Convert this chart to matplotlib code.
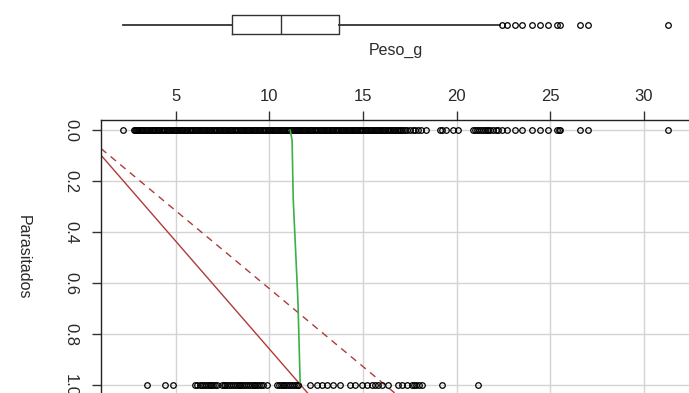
import numpy as np
import matplotlib
matplotlib.use("Agg")
import matplotlib.pyplot as plt

# datos (Peso_g vs Parasitados)
peso_no_parasitado = [
    2.17, 2.74, 2.8, 2.85, 2.92, 2.98, 3.05, 3.12, 3.2, 3.26, 3.33, 3.4, 3.47,
    3.55, 3.62, 3.7, 3.76, 3.83, 3.9, 3.98, 4.05, 4.12, 4.2, 4.27, 4.35, 4.42,
    4.5, 4.58, 4.65, 4.72, 4.8, 4.88, 4.95, 5.02, 5.1, 5.18, 5.25, 5.33, 5.4,
    5.48, 5.55, 5.62, 5.7, 5.78, 5.85, 5.92, 6.0, 6.08, 6.15, 6.22, 6.3, 6.38,
    6.45, 6.52, 6.6, 6.68, 6.75, 6.82, 6.9, 6.98, 7.05, 7.12, 7.2, 7.28, 7.35,
    7.42, 7.5, 7.58, 7.65, 7.72, 7.8, 7.88, 7.95, 8.02, 8.1, 8.18, 8.25, 8.32,
    8.4, 8.48, 8.55, 8.62, 8.7, 8.78, 8.85, 8.92, 9.0, 9.08, 9.15, 9.22, 9.3,
    9.38, 9.45, 9.52, 9.6, 9.68, 9.75, 9.82, 9.9, 9.98, 10.05, 10.12, 10.2,
    10.28, 10.35, 10.42, 10.5, 10.58, 10.65, 10.72, 10.8, 10.88, 10.95, 11.02,
    11.1, 11.18, 11.25, 11.32, 11.4, 11.48, 11.55, 11.62, 11.7, 11.78, 11.85,
    11.92, 12.0, 12.08, 12.15, 12.22, 12.3, 12.38, 12.45, 12.52, 12.6, 12.68,
    12.75, 12.82, 12.9, 12.98, 13.05, 13.12, 13.2, 13.28, 13.35, 13.42, 13.5,
    13.58, 13.65, 13.72, 13.8, 13.88, 13.95, 14.02, 14.1, 14.18, 14.25, 14.32,
    14.4, 14.48, 14.55, 14.62, 14.7, 14.78, 14.85, 14.92, 15.0, 15.08, 15.15,
    15.22, 15.3, 15.38, 15.45, 15.52, 15.6, 15.68, 15.75, 15.82, 15.9, 15.98,
    16.05, 16.12, 16.2, 16.28, 16.35, 16.42, 16.5, 16.58, 16.65, 16.72, 16.8,
    16.88, 16.95, 17.05, 17.15, 17.25, 17.35, 17.5, 17.65, 17.8, 17.95, 18.1,
    18.35, 19.1, 19.2, 19.45, 19.8, 20.05, 20.9, 21.0, 21.1, 21.2, 21.3, 21.4,
    21.5, 21.6, 21.7, 21.8, 21.95, 22.1, 22.2, 22.41, 22.68, 23.12, 23.48,
    24.02, 24.46, 24.9, 25.35, 25.45, 25.5, 26.6, 27.04, 31.31,
]
peso_parasitado = [
    3.45, 4.43, 4.87, 6.03, 6.15, 6.3, 6.4, 6.5, 6.6, 6.7, 6.8, 6.9, 7.0, 7.1,
    7.19, 7.46, 7.55, 7.65, 7.75, 7.85, 7.95, 8.05, 8.15, 8.25, 8.35, 8.45,
    8.55, 8.65, 8.75, 8.85, 8.95, 9.05, 9.15, 9.25, 9.35, 9.45, 9.55, 9.68,
    9.86, 10.4, 10.5, 10.6, 10.7, 10.8, 10.9, 11.0, 11.1, 11.2, 11.3, 11.4,
    11.5, 11.55, 12.17, 12.53, 12.8, 13.07, 13.42, 13.78, 14.31, 14.58, 14.94,
    15.2, 15.47, 15.65, 15.82, 16.0, 16.36, 16.89, 17.1, 17.34, 17.6, 17.7,
    17.85, 18.0, 18.14, 19.2, 21.16,
]

# boxplot de Peso_g (cuartiles, bigotes y atipicos)
caja_stats = dict(whislo=2.17, q1=7.99, med=10.63, q3=13.71, whishi=22.33)
atipicos = [22.41, 22.68, 23.12, 23.48, 24.02, 24.46, 24.9, 25.35, 25.53,
            26.6, 27.04, 31.31]

# lineas: regresion lineal (solida), discontinua y suavizado (verde)
recta_x = [1.0, 11.55]
recta_y = [0.098, 0.99]
disc_x = [1.0, 15.74]
disc_y = [0.072, 0.973]
suave_x = [11.11, 11.21, 11.27, 11.52, 11.64]
suave_y = [0.0, 0.04, 0.27, 0.667, 0.99]

x_ticks = [5, 10, 15, 20, 25, 30]
y_ticks = [0.0, 0.2, 0.4, 0.6, 0.8, 1.0]

plt.rcParams['font.family'] = ['Liberation Sans', 'DejaVu Sans']
W, H = 689, 393
fig = plt.figure(figsize=(W / 100, H / 100), dpi=100)
texto = '#2a2a2a'

def px_axes(x0, x1, y0, y1):
    # caja en pixeles (y desde arriba) -> coordenadas de figura
    return [x0 / W, 1 - y1 / H, (x1 - x0) / W, (y1 - y0) / H]

xlim = (1.0, 32.47)
punto = dict(marker='o', ms=4.0, mfc='none', mec='black', mew=0.9)

# 1. grafico principal
ax = fig.add_axes(px_axes(101, 690, 120, 395.2))
ax.set_xlim(*xlim)
ax.set_ylim(1.04, -0.04)
for xv in x_ticks:
    ax.axvline(xv, color='#d4d4d4', lw=1.0, zorder=0)
for yv in y_ticks:
    ax.axhline(yv, color='#d4d4d4', lw=1.0, zorder=0)

ax.plot(peso_no_parasitado, np.zeros(len(peso_no_parasitado)), ls='none',
        zorder=3, **punto)
ax.plot(peso_parasitado, np.ones(len(peso_parasitado)), ls='none',
        zorder=3, **punto)

# rectas extendidas a todo el rango (se recortan en el panel)
m1 = (recta_y[1] - recta_y[0]) / (recta_x[1] - recta_x[0])
m2 = (disc_y[1] - disc_y[0]) / (disc_x[1] - disc_x[0])
xx = np.array(xlim)
ax.plot(xx, recta_y[0] + m1 * (xx - recta_x[0]), color='#b03a3a', lw=1.0, zorder=2)
ax.plot(xx, disc_y[0] + m2 * (xx - disc_x[0]), color='#b03a3a', lw=1.0,
        ls=(0, (5, 4)), zorder=2)
ax.plot(suave_x, suave_y, color='#3cb044', lw=1.2, zorder=4)

ax.xaxis.tick_top()
ax.set_xticks(x_ticks)
ax.set_yticks(y_ticks)
ax.set_yticklabels([f'{v:.1f}' for v in y_ticks], rotation=270, va='center')
ax.tick_params(axis='both', length=6.5, width=1.0, color='#333333',
               labelsize=12, labelcolor=texto, pad=5)
ax.tick_params(axis='y', pad=10)
for s in ax.spines.values():
    s.set_linewidth(1.0)
    s.set_color('#222222')

fig.text(23.5 / W, 1 - 257.5 / H, 'Parasitados', rotation=270, ha='center',
         va='center', fontsize=11.5, color=texto)

# 2. boxplot marginal arriba
axb = fig.add_axes(px_axes(101, 690, 5, 44))
axb.set_xlim(*xlim)
axb.set_ylim(-1, 1)
stats = dict(caja_stats, fliers=atipicos)
axb.bxp([stats], positions=[0], widths=1.01, vert=False, showcaps=False,
        boxprops=dict(color='#333333', lw=1.0),
        medianprops=dict(color='#333333', lw=1.0),
        whiskerprops=dict(color='#333333', lw=1.3),
        flierprops=punto)
axb.axis('off')
fig.text(395.5 / W, 1 - 50 / H, 'Peso_g', ha='center', va='center',
         fontsize=11.5, color=texto)

fig.savefig('out.png', dpi=100)
